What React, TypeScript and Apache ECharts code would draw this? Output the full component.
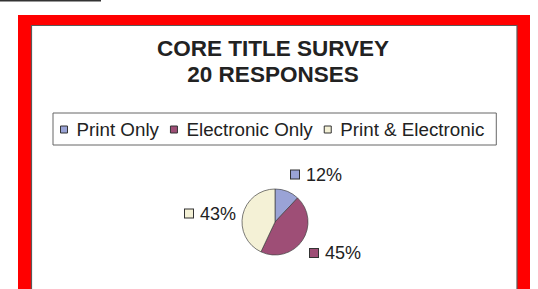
import React, { useEffect, useRef } from "react";
import * as echarts from "echarts";

const categories = ["Print Only", "Electronic Only", "Print & Electronic"];
const values = [12, 45, 43];
const colors = ["#9AA3D6", "#9E4E76", "#F4F1D6"];
const titleLines = ["CORE TITLE SURVEY", "20 RESPONSES"];

const CX = 275;
const CY = 222;
const R = 33;
// label anchor offsets (square left edge, vertical centre) relative to pie centre
const labelOffsets: [number, number][] = [
  [16, -47.5],
  [35, 31],
  [-90, -8.5],
];

const FONT = "Liberation Sans, Arial, sans-serif";

export default function App() {
  const ref = useRef<HTMLDivElement>(null);
  useEffect(() => {
    if (!ref.current) return;
    const chart = echarts.init(ref.current, undefined, { renderer: "svg" });
    chart.setOption({
      animation: false,
      backgroundColor: "#ffffff",
      graphic: [
        { type: "rect", z: -10, shape: { x: 0, y: 0, width: 101, height: 1.6 }, style: { fill: "#333" } },
        { type: "rect", z: -10, shape: { x: 18, y: 15, width: 512, height: 290 }, style: { fill: "#FF0000" } },
        {
          type: "rect",
          z: -9,
          shape: { x: 31.5, y: 25.5, width: 485.5, height: 280 },
          style: { fill: "#ffffff", stroke: "#5a5a5a", lineWidth: 1.2 },
        },
      ],
      title: {
        text: titleLines.join("\n"),
        left: 273,
        top: 35,
        padding: 0,
        textAlign: "center",
        textStyle: {
          fontFamily: FONT,
          fontSize: 22.5,
          fontWeight: "bold",
          color: "#222",
          lineHeight: 26,
        },
      },
      legend: {
        left: 53,
        top: 113,
        orient: "horizontal",
        padding: [7, 12, 6, 7],
        borderColor: "#666",
        borderWidth: 1,
        itemWidth: 7,
        itemHeight: 7,
        itemGap: 11,
        icon: "rect",
        itemStyle: { borderColor: "#333", borderWidth: 1 },
        textStyle: {
          fontFamily: FONT,
          fontSize: 18.8,
          color: "#222",
          padding: [0, 0, 0, 4],
        },
        data: categories,
      },
      series: [
        {
          type: "pie",
          center: [CX, CY],
          radius: R,
          startAngle: 90,
          clockwise: true,
          itemStyle: { borderColor: "#444", borderWidth: 0.7 },
          emphasis: { disabled: true },
          data: categories.map((c, i) => ({
            name: c,
            value: values[i],
            itemStyle: { color: colors[i] },
            label: {
              rich: {
                sq: {
                  width: 8,
                  height: 8,
                  backgroundColor: colors[i],
                  borderColor: "#333",
                  borderWidth: 1,
                },
              },
            },
          })),
          label: {
            show: true,
            position: "outside",
            formatter: (p: any) => `{sq|}{t|${p.value}%}`,
            rich: {
              t: {
                fontFamily: FONT,
                fontSize: 18,
                color: "#222",
                padding: [0, 0, 0, 7],
              },
            },
          },
          labelLine: { show: false },
          labelLayout: (params: any) => {
            const o = labelOffsets[params.dataIndex];
            return {
              x: CX + o[0],
              y: CY + o[1],
              align: "left",
              verticalAlign: "middle",
            };
          },
        },
      ],
    });
    return () => chart.dispose();
  }, []);
  return (
    <div
      ref={ref}
      style={{ position: "fixed", left: 0, top: 0, width: 538, height: 289 }}
    />
  );
}
